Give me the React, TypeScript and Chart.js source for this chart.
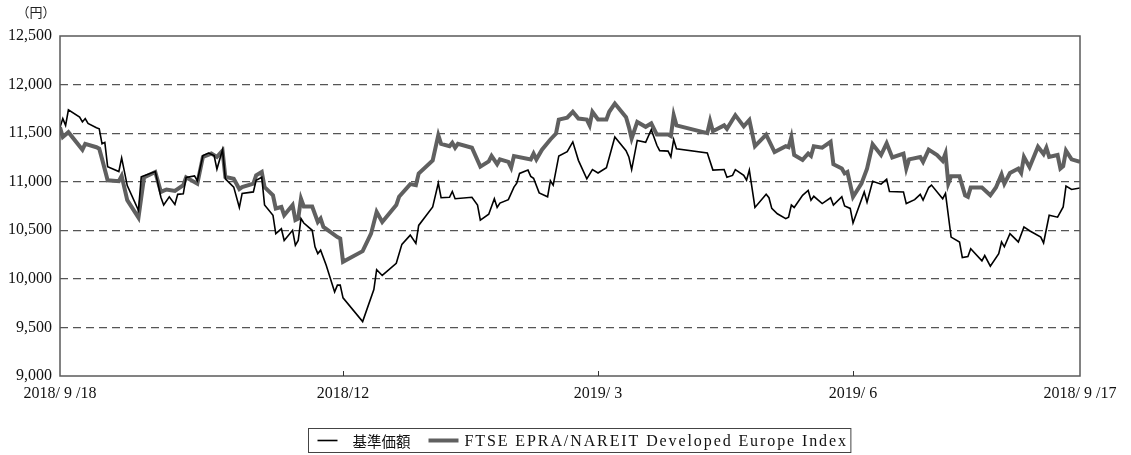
import React, { useEffect, useRef } from "react";
import { Chart, registerables } from "chart.js";

Chart.register(...registerables);

// Days since 2018/9/18
const tickDays = [0, 101, 192, 283, 364];
const tickLabels = ["2018/ 9 /18", "2018/12", "2019/ 3", "2019/ 6", "2018/ 9 /17"];
const yMin = 9000;
const yMax = 12500;
const yStep = 500;

const seriesLabels = ["基準価額", "FTSE EPRA/NAREIT Developed Europe Index"];

const navDays = [
  0, 1, 2, 3, 7, 8, 9, 10, 13, 14,
  15, 16, 17, 21, 22, 24, 28, 29, 34, 36,
  37, 39, 41, 42, 44, 45, 48, 49, 51, 53,
  55, 56, 58, 59, 62, 64, 65, 69, 70, 72,
  73, 76, 77, 79, 80, 83, 84, 85, 86, 87,
  90, 91, 92, 93, 95, 98, 99, 100, 101, 108,
  112, 113, 115, 120, 122, 125, 127, 128, 133, 135,
  136, 139, 140, 141, 147, 149, 150, 153, 155, 156,
  157, 160, 162, 163, 164, 167, 168, 169, 171, 174,
  175, 176, 178, 181, 183, 185, 188, 190, 192, 195,
  198, 202, 203, 204, 206, 209, 211, 213, 214, 217,
  218, 219, 220, 231, 233, 237, 238, 240, 241, 244,
  245, 246, 248, 252, 253, 254, 256, 259, 260, 261,
  262, 265, 267, 268, 269, 272, 275, 276, 279, 280,
  282, 283, 287, 288, 290, 293, 295, 296, 301, 302,
  305, 307, 308, 310, 311, 315, 316, 318, 321, 322,
  324, 325, 329, 330, 332, 335, 336, 337, 339, 342,
  344, 346, 350, 351, 353, 356, 358, 359, 361, 364,
];
const navValues = [
  11560, 11650, 11580, 11740, 11665, 11615, 11650, 11600, 11555, 11545,
  11390, 11405, 11155, 11105, 11245, 10960, 10705, 11050, 11105, 10840,
  10760, 10845, 10765, 10870, 10875, 11045, 11060, 11010, 11270, 11295,
  11270, 11130, 11330, 11030, 10945, 10735, 10880, 10895, 11015, 11045,
  10760, 10655, 10465, 10515, 10395, 10500, 10345, 10395, 10620, 10575,
  10500, 10330, 10260, 10295, 10140, 9865, 9935, 9935, 9805, 9560,
  9890, 10095, 10035, 10160, 10355, 10450, 10365, 10550, 10740, 10985,
  10835, 10840, 10900, 10825, 10840, 10760, 10605, 10665, 10825, 10735,
  10780, 10815, 10945, 10985, 11085, 11120, 11055, 11035, 10885, 10845,
  11010, 10965, 11265, 11310, 11410, 11220, 11030, 11125, 11090, 11145,
  11460, 11320, 11255, 11125, 11425, 11405, 11535, 11375, 11320, 11315,
  11255, 11435, 11340, 11295, 11120, 11125, 11045, 11065, 11125, 11065,
  11015, 11120, 10735, 10870, 10835, 10725, 10670, 10620, 10635, 10760,
  10735, 10860, 10910, 10810, 10850, 10775, 10835, 10760, 10845, 10750,
  10725, 10575, 10895, 10790, 11005, 10975, 11025, 10900, 10895, 10775,
  10815, 10870, 10810, 10940, 10965, 10825, 10880, 10430, 10380, 10220,
  10230, 10310, 10185, 10240, 10130, 10260, 10380, 10330, 10465, 10380,
  10535, 10495, 10430, 10370, 10655, 10635, 10740, 10955, 10920, 10935,
];

const indexDays = [
  0, 1, 3, 8, 9, 13, 14, 15, 17, 21,
  22, 24, 28, 30, 34, 36, 38, 41, 44, 45,
  49, 51, 54, 56, 58, 59, 62, 64, 65, 69,
  70, 72, 73, 76, 77, 79, 80, 83, 84, 85,
  86, 87, 90, 92, 93, 94, 99, 100, 101, 108,
  111, 113, 115, 120, 121, 125, 127, 128, 133, 135,
  136, 139, 140, 141, 142, 147, 150, 153, 154, 156,
  157, 160, 161, 162, 168, 169, 170, 172, 175, 177,
  178, 181, 183, 185, 188, 189, 190, 192, 195, 196,
  198, 202, 203, 204, 206, 209, 211, 213, 217, 218,
  219, 220, 231, 232, 233, 237, 238, 241, 244, 246,
  248, 252, 255, 259, 260, 261, 262, 265, 267, 268,
  269, 272, 275, 276, 279, 280, 281, 283, 286, 288,
  290, 293, 295, 297, 301, 302, 303, 307, 308, 310,
  313, 315, 316, 317, 318, 321, 323, 324, 325, 329,
  332, 334, 336, 337, 339, 342, 343, 344, 346, 349,
  351, 352, 353, 356, 357, 358, 359, 361, 364,
];
const indexValues = [
  11560, 11460, 11510, 11330, 11390, 11355, 11340, 11235, 11015, 11005,
  11060, 10810, 10630, 11045, 11100, 10895, 10920, 10905, 10965, 11045,
  10980, 11255, 11290, 11255, 11320, 11050, 11030, 10925, 10945, 10980,
  11065, 11100, 10945, 10860, 10725, 10740, 10655, 10760, 10605, 10620,
  10825, 10745, 10745, 10585, 10620, 10535, 10430, 10415, 10175, 10285,
  10465, 10690, 10585, 10760, 10845, 10975, 10965, 11085, 11220, 11480,
  11390, 11365, 11400, 11350, 11390, 11350, 11155, 11210, 11265, 11180,
  11230, 11205, 11145, 11265, 11230, 11290, 11230, 11330, 11435, 11495,
  11640, 11660, 11720, 11650, 11640, 11580, 11720, 11640, 11640, 11720,
  11805, 11665, 11565, 11445, 11615, 11565, 11600, 11485, 11485, 11470,
  11685, 11580, 11500, 11625, 11520, 11580, 11545, 11685, 11570, 11635,
  11365, 11485, 11305, 11365, 11355, 11460, 11275, 11225, 11290, 11265,
  11365, 11350, 11410, 11180, 11135, 11085, 11100, 10845, 10980, 11135,
  11385, 11275, 11395, 11250, 11290, 11135, 11230, 11255, 11205, 11330,
  11275, 11215, 11290, 10980, 11055, 11055, 10860, 10845, 10940, 10940,
  10860, 10940, 11075, 10980, 11090, 11135, 11090, 11255, 11150, 11360,
  11285, 11350, 11255, 11275, 11135, 11160, 11320, 11230, 11205,
];

const FONT_FAMILY = "'Liberation Serif', 'Noto Sans CJK JP', serif";
const FRAME_COLOR = "#5a5a5a";
const NAV_COLOR = "#000000";
const INDEX_COLOR = "#606060";

const framePlugin = {
  id: "frame",
  afterDraw(chart: any) {
    const { ctx, chartArea } = chart;
    const xs = chart.scales.x;
    ctx.save();
    ctx.strokeStyle = FRAME_COLOR;
    ctx.lineWidth = 1.5;
    ctx.strokeRect(chartArea.left, chartArea.top, chartArea.right - chartArea.left, chartArea.bottom - chartArea.top);
    ctx.lineWidth = 1;
    ctx.strokeStyle = "#333";
    tickDays.forEach((d, i) => {
      if (i === 0 || i === tickDays.length - 1) return;
      const px = Math.round(xs.getPixelForValue(d)) + 0.5;
      ctx.beginPath();
      ctx.moveTo(px, chartArea.bottom);
      ctx.lineTo(px, chartArea.bottom - 5);
      ctx.stroke();
    });
    // unit label
    ctx.fillStyle = "#222";
    ctx.font = `13px ${FONT_FAMILY}`;
    ctx.textAlign = "center";
    ctx.textBaseline = "middle";
    ctx.fillText("（円）", 36, 14);
    ctx.restore();
  },
};

const legendFonts = [
  { font: "14.5px 'Noto Sans CJK JP', sans-serif", spacing: "0px" },
  { font: "16px 'Liberation Serif', serif", spacing: "1.9px" },
];
const legendSampleLens = [20, 30];

const legendPlugin = {
  id: "boxLegend",
  afterDraw(chart: any) {
    const { ctx } = chart;
    const datasets = chart.data.datasets;
    ctx.save();
    ctx.textBaseline = "middle";
    ctx.textAlign = "left";
    const padL = 9;
    const gapLineText = [15, 6];
    const gapItems = 18;
    const padR = 3;
    const widths = datasets.map((ds: any, i: number) => {
      ctx.font = legendFonts[i].font;
      (ctx as any).letterSpacing = legendFonts[i].spacing;
      return ctx.measureText(ds.label).width;
    });
    let total = padL;
    datasets.forEach((ds: any, i: number) => {
      total += legendSampleLens[i] + gapLineText[i] + widths[i];
      if (i < datasets.length - 1) total += gapItems;
    });
    total += padR;
    const boxH = 24;
    const left = 308.5;
    const top = 428.5;
    ctx.strokeStyle = "#444";
    ctx.lineWidth = 1;
    ctx.strokeRect(left, top, total, boxH);
    const cy = top + boxH / 2;
    let x = left + padL;
    datasets.forEach((ds: any, i: number) => {
      ctx.strokeStyle = ds.borderColor;
      ctx.lineWidth = ds.borderWidth;
      ctx.beginPath();
      ctx.moveTo(x, cy);
      ctx.lineTo(x + legendSampleLens[i], cy);
      ctx.stroke();
      x += legendSampleLens[i] + gapLineText[i];
      ctx.font = legendFonts[i].font;
      (ctx as any).letterSpacing = legendFonts[i].spacing;
      ctx.fillStyle = "#111";
      ctx.fillText(ds.label, x, cy + 1);
      x += widths[i] + gapItems;
    });
    ctx.restore();
  },
};

export default function App() {
  const canvasRef = useRef<HTMLCanvasElement | null>(null);

  useEffect(() => {
    const canvas = canvasRef.current;
    if (!canvas) return;
    const chart = new Chart(canvas, {
      type: "line",
      data: {
        datasets: [
          {
            label: seriesLabels[0],
            data: navDays.map((d, i) => ({ x: d, y: navValues[i] })),
            borderColor: NAV_COLOR,
            borderWidth: 1.6,
            pointRadius: 0,
            tension: 0,
            fill: false,
          },
          {
            label: seriesLabels[1],
            data: indexDays.map((d, i) => ({ x: d, y: indexValues[i] })),
            borderColor: INDEX_COLOR,
            borderWidth: 4,
            pointRadius: 0,
            tension: 0,
            fill: false,
          },
        ],
      },
      options: {
        animation: false,
        responsive: false,
        devicePixelRatio: 1,
        layout: { padding: { left: 0, right: 51, top: 36, bottom: 50 } },
        plugins: {
          legend: { display: false },
          tooltip: { enabled: false },
        },
        scales: {
          x: {
            type: "linear",
            min: tickDays[0],
            max: tickDays[tickDays.length - 1],
            afterBuildTicks: (scale: any) => {
              scale.ticks = tickDays.map((v) => ({ value: v }));
            },
            afterFit: (scale: any) => {
              scale.height = 29;
            },
            grid: { display: false, drawTicks: false },
            border: { display: false },
            ticks: {
              autoSkip: false,
              maxRotation: 0,
              minRotation: 0,
              padding: 8,
              color: "#111",
              font: { family: FONT_FAMILY, size: 16 },
              callback: (v: any) => {
                const idx = tickDays.indexOf(Number(v));
                return idx >= 0 ? tickLabels[idx] : "";
              },
            },
          },
          y: {
            min: yMin,
            max: yMax,
            afterFit: (scale: any) => {
              scale.width = 60;
            },
            grid: {
              drawTicks: false,
              lineWidth: 1.2,
              color: (c: any) =>
                c.tick && (c.tick.value === yMin || c.tick.value === yMax) ? "rgba(0,0,0,0)" : "#555",
            },
            border: { display: false, dash: [8, 5] },
            ticks: {
              stepSize: yStep,
              padding: 8,
              color: "#111",
              font: { family: FONT_FAMILY, size: 16 },
              callback: (v: any) => Number(v).toLocaleString("en-US"),
            },
          },
        },
      },
      plugins: [framePlugin, legendPlugin],
    });
    return () => chart.destroy();
  }, []);

  return (
    <canvas
      ref={canvasRef}
      width={1131}
      height={455}
      style={{ position: "fixed", left: 0, top: 0, width: 1131, height: 455, background: "#fff" }}
    />
  );
}
